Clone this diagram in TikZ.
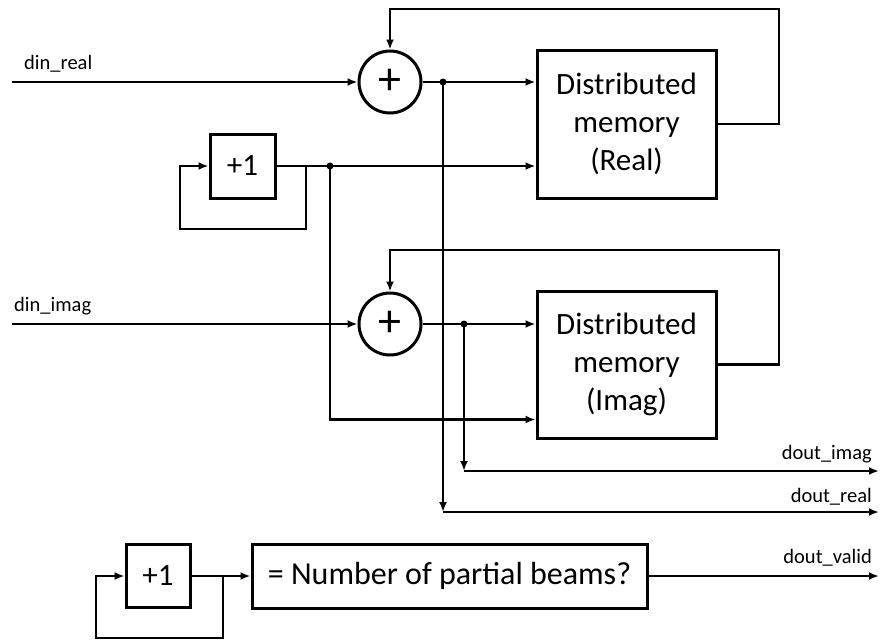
\documentclass[tikz,border=0pt]{standalone}
\usepackage{fontspec}
\setmainfont{Carlito}
\usetikzlibrary{arrows.meta}
\tikzstyle{blk}=[draw, line width=3pt, align=center, inner sep=0pt, font=\fontsize{31}{38}\selectfont]
\tikzstyle{adder}=[circle, draw, line width=3pt, minimum size=62pt, inner sep=0pt, font=\fontsize{46}{46}\selectfont]
\tikzstyle{sig}=[inner sep=0pt, font=\fontsize{20.5}{24}\selectfont]
\tikzstyle{dot}=[circle, fill=black, minimum size=7pt, inner sep=0pt]
\tikzstyle{wire}=[line width=2.3pt]
\tikzstyle{arr}=[wire, -{Latex[length=10pt,width=8pt]}]

\begin{document}
\begin{tikzpicture}[x=1pt,y=-1pt]
                    \useasboundingbox (0,0) rectangle (881,641);
                    % blocks
                    \node[adder] (addre) at (390,82) {+};
                    \node[adder] (addim) at (390,324) {+};
                    \node[blk, minimum width=179pt, minimum height=148pt] (memre) at (626.5,124) {Distributed\\memory\\(Real)};
                    \node[blk, minimum width=179pt, minimum height=147pt] (memim) at (626.5,364.5) {Distributed\\memory\\(Imag)};
                    \node[blk, minimum width=65pt, minimum height=64pt] (cntre) at (242.5,166) {+1};
                    \node[blk, minimum width=64pt, minimum height=63pt] (cntva) at (158,576) {+1};
                    \node[blk, minimum width=395pt, minimum height=64pt, font=\fontsize{32}{38}\selectfont] (cmp) at (449.5,576) {= Number of partial beams?};
                    % signal names
                    \node[sig, anchor=base west] (ldre) at (24,69) {din\_real};
                    \node[sig, anchor=base west] (ldim) at (14,311) {din\_imag};
                    \node[sig, anchor=base east] (lqim) at (872,459) {dout\_imag};
                    \node[sig, anchor=base east] (lqre) at (872,502) {dout\_real};
                    \node[sig, anchor=base east] (lqva) at (872,563) {dout\_valid};
                    % ends and bends
                    \coordinate (inre) at (12,82);
                    \coordinate (inim) at (12,324);
                    \coordinate (oim) at (879,471);
                    \coordinate (ore) at (879,512);
                    \coordinate (ova) at (879,576);
                    \coordinate (fbre) at (779,9);
                    \coordinate (fbim) at (779,250);
                    \coordinate (lpa) at (306,229);
                    \coordinate (lpb) at (180,229);
                    \coordinate (lpc) at (223,638);
                    \coordinate (lpd) at (96,638);
                    \node[dot] (jre) at (443,82) {};
                    \node[dot] (jim) at (464,324) {};
                    \node[dot] (jcnt) at (330,166) {};
                    % real path
                    \draw[arr] (inre) -- (addre);
                    \draw[arr] (addre) -- (addre -| memre.west);
                    \draw[arr] (memre.east) -| (fbre) -| (addre.north);
                    \draw[arr] (jre.center) -- (jre |- ore);
                    \draw[arr] (jre |- ore) -- (ore);
                    % imag path
                    \draw[arr] (inim) -- (addim);
                    \draw[arr] (addim) -- (addim -| memim.west);
                    \draw[arr] (memim.east) -| (fbim) -| (addim.north);
                    \draw[arr] (jim.center) -- (jim |- oim);
                    \draw[arr] (jim |- oim) -- (oim);
                    % address counter
                    \draw[arr] (cntre.east) -| (lpa) -- (lpb) |- (cntre.west);
                    \draw[arr] (cntre.east) -- (cntre.east -| memre.west);
                    \draw[arr] (jcnt.center) |- ([yshift=20pt]memim.south west);
                    % valid counter
                    \draw[arr] (cntva.east) -| (lpc) -- (lpd) |- (cntva.west);
                    \draw[arr] (cntva) -- (cmp);
                    \draw[arr] (cmp) -- (ova);
                    \end{tikzpicture}
\end{document}
